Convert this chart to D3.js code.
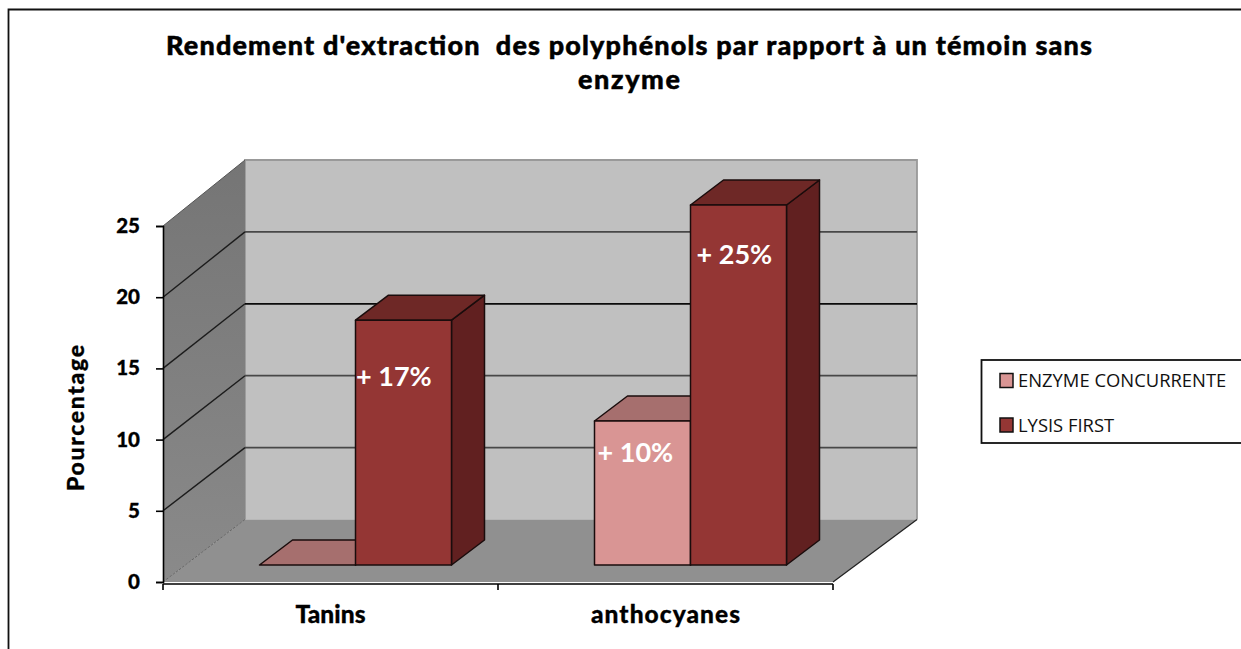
<!DOCTYPE html>
<html><head><meta charset="utf-8">
<script src="https://cdn.jsdelivr.net/npm/d3@7"></script>
<style>
html,body{margin:0;padding:0;background:#fff;overflow:hidden}
svg{display:block}
text{font-family:Lato,"Open Sans",sans-serif;font-weight:900;fill:#000}
.legend text{font-family:"Open Sans",sans-serif;font-weight:400;fill:#111}
</style></head><body>
<svg id="c" width="1241" height="649"></svg>
<script>
const titleLines = ["Rendement d'extraction  des polyphénols par rapport à un témoin sans", "enzyme"];
const categories = ["Tanins", "anthocyanes"];
const seriesNames = ["ENZYME CONCURRENTE", "LYSIS FIRST"];
const enzymeConcurrente = [0, 10];
const lysisFirst = [17, 25];
const enzymeLabels = [null, "+ 10%"];
const lysisLabels = ["+ 17%", "+ 25%"];
const enzymeLabelAt = [null, 7.8];
const lysisLabelAt = [13.1, 21.6];
const yTicks = [0, 5, 10, 15, 20, 25];
const yTitle = "Pourcentage";

const svg = d3.select("#c");
const W = 1241, H = 649;

const yFront = d3.scaleLinear().domain([0, 25]).range([582, 226]);
const yBack = d3.scaleLinear().domain([0, 25]).range([519.5, 160]);
const yBar = d3.scaleLinear().domain([0, 25]).range([565, 205]);
const xCat = d3.scaleBand().domain(categories).range([163, 833]);
const xSer = d3.scaleBand().domain(seriesNames).range([96.5, 288.5]);
const xBackL = 245, xBackR = 917, depthX = 33, depthY = 25;
const poly = p => p.map(d => d.join(",")).join(" ");

// outer frame
svg.append("path").attr("d", `M8.5,${H}V9.5H${W}`).attr("fill", "none").attr("stroke", "#111").attr("stroke-width", 1.8);

// walls
const defs = svg.append("defs");
const g = defs.append("linearGradient").attr("id", "side").attr("x1", 0).attr("x2", 0).attr("y1", 0).attr("y2", 1);
g.append("stop").attr("offset", 0).attr("stop-color", "#757575");
g.append("stop").attr("offset", 1).attr("stop-color", "#8a8a8a");

svg.append("polygon").attr("points", poly([[xBackL, yBack(25)], [xBackR, yBack(25)], [xBackR, yBack(0)], [xBackL, yBack(0)]]))
  .attr("fill", "#c0c0c0");
svg.append("path").attr("d", `M${xBackL},${yBack(0)}V${yBack(25)}H${xBackR}V${yBack(0)}`)
  .attr("fill", "none").attr("stroke", "#999").attr("stroke-width", 1.8);
svg.append("polygon").attr("points", poly([[163, yFront(25)], [xBackL, yBack(25)], [xBackL, yBack(0)], [163, yFront(0)]]))
  .attr("fill", "url(#side)");
svg.append("polygon").attr("points", poly([[163, yFront(0)], [xBackL, yBack(0)], [xBackR, yBack(0)], [833, yFront(0)]]))
  .attr("fill", "#909090");
svg.append("line").attr("x1", 163).attr("y1", yFront(25)).attr("x2", xBackL).attr("y2", yBack(25)).attr("stroke", "#555").attr("stroke-width", 1);
svg.append("line").attr("x1", 163).attr("y1", yFront(0)).attr("x2", xBackL).attr("y2", yBack(0)).attr("stroke", "#666").attr("stroke-width", 1).attr("stroke-dasharray", "3 1");
svg.append("line").attr("x1", 833).attr("y1", yFront(0)).attr("x2", xBackR).attr("y2", yBack(0)).attr("stroke", "#222").attr("stroke-width", 1.3);

// gridlines
const gridValues = yTicks.filter(v => v > 0 && v < 25);
const gridG = svg.append("g").attr("fill", "none").attr("stroke-width", 1.8);
gridG.selectAll("path.back").data(gridValues).join("path").attr("class", "back")
  .attr("d", v => `M${xBackL},${yBack(v)}H${xBackR}`)
  .attr("stroke", v => v === 15 ? "#0a0a0a" : "#484848");
gridG.selectAll("path.wall").data(gridValues).join("path").attr("class", "wall")
  .attr("d", v => `M163,${yFront(v)}L${xBackL},${yBack(v)}`)
  .attr("stroke", "#1c1c1c").attr("stroke-width", 1.4);

// bars
const seriesRows = [
  {name: seriesNames[0], values: enzymeConcurrente, labels: enzymeLabels, at: enzymeLabelAt, inset: [0, 3], front: "#d99594", top: "#a66f6e", sideC: "#7a4a49"},
  {name: seriesNames[1], values: lysisFirst, labels: lysisLabels, at: lysisLabelAt, inset: [0.5, 6], front: "#943634", top: "#6e2826", sideC: "#612020"}
];
const edge = "#1a0c0c";
seriesRows.forEach(s => {
  categories.forEach((c, i) => {
    const x0 = xCat(c) + xSer(s.name), x1 = x0 + xSer.bandwidth();
    const y0 = yBar(0), y1 = yBar(s.values[i]);
    const b = svg.append("g").attr("stroke", edge).attr("stroke-width", 1.5).attr("stroke-linejoin", "round");
    b.append("polygon").attr("points", poly([[x1, y1], [x1 + depthX, y1 - depthY], [x1 + depthX, y0 - depthY], [x1, y0]])).attr("fill", s.sideC);
    b.append("polygon").attr("points", poly([[x0, y1], [x0 + depthX, y1 - depthY], [x1 + depthX, y1 - depthY], [x1, y1]])).attr("fill", s.top);
    if (s.values[i] > 0) b.append("rect").attr("x", x0).attr("y", y1).attr("width", x1 - x0).attr("height", y0 - y1).attr("fill", s.front);
  });
});

// data labels
seriesRows.forEach(s => {
  categories.forEach((c, i) => {
    if (!s.labels[i]) return;
    svg.append("text").text(s.labels[i])
      .attr("x", xCat(c) + xSer(s.name) + s.inset[i])
      .attr("y", yBar(s.at[i])).attr("dy", "0.36em")
      .style("font-size", "27px").style("font-weight", 700).style("fill", "#fff");
  });
});

// axes
const yAxis = svg.append("g").attr("transform", "translate(163,0)")
  .call(d3.axisLeft(yFront).tickValues(yTicks).tickFormat(d3.format("d")).tickSize(7).tickPadding(16));
const xAxis = svg.append("g").attr("transform", "translate(0,584)")
  .call(d3.axisBottom(xCat).tickSize(0).tickPadding(22));
[yAxis, xAxis].forEach(a => {
  a.selectAll("path.domain").attr("stroke", "#000").attr("stroke-width", 1.6);
  a.selectAll("line").attr("stroke", "#000").attr("stroke-width", 1.6);
  a.selectAll("text").style("font-family", "Lato,sans-serif").style("font-weight", 900)
    .attr("stroke", "#000").attr("stroke-width", 0.3);
});
yAxis.selectAll("text").style("font-size", "20.5px");
xAxis.selectAll("text").style("font-size", "24.5px");
xAxis.selectAll("text").attr("textLength", (d, i) => [70, 149][i]).attr("lengthAdjust", "spacing");
xAxis.selectAll("path.domain").attr("d", "M163,0H833");
xAxis.selectAll("line.boundary").data([0, 1, 2]).join("line").attr("class", "boundary")
  .attr("x1", i => 163 + i * xCat.bandwidth()).attr("x2", i => 163 + i * xCat.bandwidth())
  .attr("y1", 0).attr("y2", 6).attr("stroke", "#000").attr("stroke-width", 1.6);

// axis title
svg.append("text").text(yTitle).attr("transform", "translate(84,418) rotate(-90)")
  .attr("text-anchor", "middle").style("font-size", "23px").attr("textLength", 146).attr("lengthAdjust", "spacing")
  .attr("stroke", "#000").attr("stroke-width", 0.3);

// title
svg.append("text").text(titleLines[0]).attr("x", 629).attr("y", 55).attr("text-anchor", "middle")
  .style("font-size", "27px").attr("textLength", 926).attr("lengthAdjust", "spacing").attr("xml:space", "preserve")
  .attr("stroke", "#000").attr("stroke-width", 0.5);
svg.append("text").text(titleLines[1]).attr("x", 629).attr("y", 89).attr("text-anchor", "middle")
  .style("font-size", "27px").attr("textLength", 102).attr("lengthAdjust", "spacing")
  .attr("stroke", "#000").attr("stroke-width", 0.5);

// legend
const lg = svg.append("g").attr("class", "legend");
lg.append("rect").attr("x", 981.5).attr("y", 360).attr("width", 300).attr("height", 83).attr("fill", "#fff").attr("stroke", "#111").attr("stroke-width", 1.8);
const legendY = d3.scalePoint().domain(seriesNames).range([381, 425.5]);
seriesRows.forEach(s => {
  lg.append("rect").attr("x", 1000).attr("y", legendY(s.name) - 7.5).attr("width", 13).attr("height", 14)
    .attr("fill", s.front).attr("stroke", "#111").attr("stroke-width", 1.5);
  lg.append("text").text(s.name).attr("x", 1018).attr("y", legendY(s.name) - 0.5).attr("dy", "0.36em")
    .style("font-size", "18.4px");
});
</script>
</body></html>
